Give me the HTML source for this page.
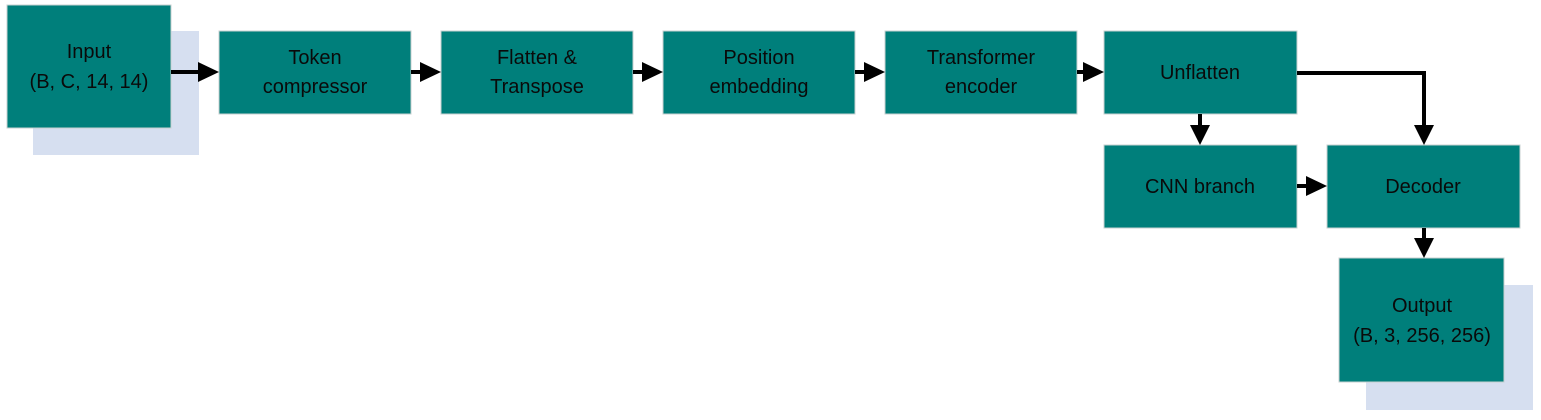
<!DOCTYPE html>
<html><head><meta charset="utf-8"><style>
html,body{margin:0;padding:0;background:#fff;width:1541px;height:420px;overflow:hidden}
svg{display:block}
text{font-family:"Liberation Sans",sans-serif;font-size:20px;fill:#0a0a0a;text-anchor:middle}
.b{fill:#007f7b;stroke:#c8d0d0;stroke-width:1}
.s{fill:#d6dff0}
.l{stroke:#000;stroke-width:4;fill:none}
</style></head><body>
<svg width="1541" height="420" viewBox="0 0 1541 420">
<rect class="s" x="33" y="31" width="166" height="124"/>
<rect class="b" x="7" y="5" width="164" height="123"/>
<text x="89" y="58">Input</text><text x="89" y="88">(B, C, 14, 14)</text>

<rect class="s" x="1366" y="285" width="167" height="125"/>
<rect class="b" x="1339" y="258" width="165" height="124"/>
<text x="1422" y="312">Output</text><text x="1422" y="342">(B, 3, 256, 256)</text>

<rect class="b" x="219" y="31" width="192" height="83"/>
<text x="315" y="64">Token</text><text x="315" y="93">compressor</text>
<rect class="b" x="441" y="31" width="192" height="83"/>
<text x="537" y="64">Flatten &amp;</text><text x="537" y="93">Transpose</text>
<rect class="b" x="663" y="31" width="192" height="83"/>
<text x="759" y="64">Position</text><text x="759" y="93">embedding</text>
<rect class="b" x="885" y="31" width="192" height="83"/>
<text x="981" y="64">Transformer</text><text x="981" y="93">encoder</text>
<rect class="b" x="1104" y="31" width="193" height="83"/>
<text x="1200" y="79">Unflatten</text>
<rect class="b" x="1104" y="145" width="193" height="83"/>
<text x="1200" y="193">CNN branch</text>
<rect class="b" x="1327" y="145" width="193" height="83"/>
<text x="1423" y="193">Decoder</text>

<g>
<line class="l" x1="171" y1="72" x2="200" y2="72"/><polygon points="198,62 219,72 198,82"/>
<line class="l" x1="411" y1="72" x2="422" y2="72"/><polygon points="420,62 441,72 420,82"/>
<line class="l" x1="633" y1="72" x2="644" y2="72"/><polygon points="642,62 663,72 642,82"/>
<line class="l" x1="855" y1="72" x2="866" y2="72"/><polygon points="864,62 885,72 864,82"/>
<line class="l" x1="1077" y1="72" x2="1085" y2="72"/><polygon points="1083,62 1104,72 1083,82"/>
<polyline class="l" points="1297,73 1424,73 1424,127"/><polygon points="1414,125 1434,125 1424,145"/>
<line class="l" x1="1200" y1="114" x2="1200" y2="127"/><polygon points="1190,125 1210,125 1200,145"/>
<line class="l" x1="1297" y1="186" x2="1308" y2="186"/><polygon points="1306,176 1327,186 1306,196"/>
<line class="l" x1="1424" y1="228" x2="1424" y2="240"/><polygon points="1414,238 1434,238 1424,258"/>
</g>
</svg>
</body></html>
